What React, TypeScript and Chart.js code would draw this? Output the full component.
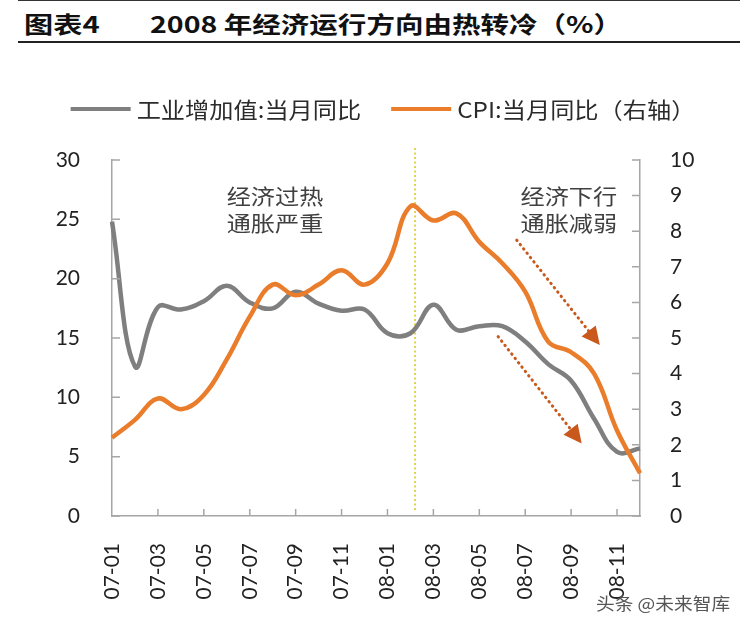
import React, { useEffect, useRef } from 'react';
import { Chart, registerables } from 'chart.js';

Chart.register(...registerables);

// ---------- data ----------
const months = [
  '07-01', '07-02', '07-03', '07-04', '07-05', '07-06', '07-07', '07-08', '07-09', '07-10', '07-11', '07-12',
  '08-01', '08-02', '08-03', '08-04', '08-05', '08-06', '08-07', '08-08', '08-09', '08-10', '08-11', '08-12',
];
const industrialValueAdded = [
  24.8, 12.6, 17.6, 17.4, 18.1, 19.4, 18.0, 17.5, 18.9, 17.9, 17.3, 17.4,
  15.4, 15.4, 17.8, 15.7, 16.0, 16.0, 14.7, 12.8, 11.4, 8.2, 5.4, 5.7,
];
const cpi = [
  2.2, 2.7, 3.3, 3.0, 3.4, 4.4, 5.6, 6.5, 6.2, 6.5, 6.9, 6.5,
  7.1, 8.7, 8.3, 8.5, 7.7, 7.1, 6.3, 4.9, 4.6, 4.0, 2.4, 1.2,
];
const leftTicks = [0, 5, 10, 15, 20, 25, 30];
const rightTicks = [0, 1, 2, 3, 4, 5, 6, 7, 8, 9, 10];
const seriesNames = ['工业增加值:当月同比', 'CPI:当月同比（右轴）'];
const titleLabel = '图表4';
const titleText = '2008 年经济运行方向由热转冷（%）';
const watermark = '头条 @未来智库';

// annotation positions in data space (x = month index, y = axis value)
const turningPoint = 13.2;
const notes = [
  { lines: ['经济过热', '通胀严重'], x: 7.1, y: 27.0, axis: 'yL' },
  { lines: ['经济下行', '通胀减弱'], x: 19.9, y: 27.0, axis: 'yL' },
];
const arrows = [
  { from: [17.63, 7.75], to: [21.25, 4.8], axis: 'yR' },
  { from: [16.82, 5.04], to: [20.46, 2.04], axis: 'yR' },
];

const GREY = '#7f7f7f';
const ORANGE = '#ea7d2c';
const AXIS = '#a6a6a6';
const CJK = "'Noto Sans CJK SC', sans-serif";
const NUM = "Lato, 'Noto Sans CJK SC', sans-serif";

function scaledText(ctx: CanvasRenderingContext2D, text: string, x: number, y: number, sx: number, align: 'left' | 'center') {
  const w = ctx.measureText(text).width * sx;
  const x0 = align === 'center' ? x - w / 2 : x;
  ctx.save();
  ctx.translate(x0, y);
  ctx.scale(sx, 1);
  ctx.textAlign = 'left';
  ctx.fillText(text, 0, 0);
  ctx.restore();
  return w;
}

const decorPlugin = {
  id: 'decor',
  beforeDatasetsDraw(chart: any) {
    const { ctx, chartArea, scales } = chart;
    const px = scales.x.getPixelForValue(turningPoint);
    ctx.save();
    ctx.strokeStyle = '#dcc828';
    ctx.lineWidth = 1.6;
    ctx.setLineDash([2, 2.5]);
    ctx.beginPath();
    ctx.moveTo(px, chartArea.top - 12);
    ctx.lineTo(px, chartArea.bottom - 4);
    ctx.stroke();
    ctx.restore();
  },
  afterDraw(chart: any) {
    const { ctx, chartArea, scales } = chart;
    const { x, yL, yR } = scales;
    ctx.save();
    // inner tick marks
    ctx.strokeStyle = AXIS;
    ctx.lineWidth = 1.5;
    ctx.beginPath();
    for (let i = 2; i < months.length; i += 2) {
      const p = x.getPixelForValue(i);
      ctx.moveTo(p, chartArea.bottom);
      ctx.lineTo(p, chartArea.bottom - 7);
    }
    leftTicks.forEach((v) => {
      const p = yL.getPixelForValue(v);
      ctx.moveTo(chartArea.left, p);
      ctx.lineTo(chartArea.left + 8, p);
    });
    rightTicks.forEach((v) => {
      const p = yR.getPixelForValue(v);
      ctx.moveTo(chartArea.right, p);
      ctx.lineTo(chartArea.right - 8, p);
    });
    ctx.stroke();

    // annotation texts
    ctx.fillStyle = '#404040';
    ctx.font = `21px ${CJK}`;
    ctx.textBaseline = 'middle';
    notes.forEach((n) => {
      const cx = x.getPixelForValue(n.x);
      const cy = scales[n.axis].getPixelForValue(n.y);
      n.lines.forEach((l, i) => scaledText(ctx, l, cx, cy + i * 27, 1.15, 'center'));
    });

    // dotted arrows
    arrows.forEach((a) => {
      const ys = scales[a.axis];
      const x1 = x.getPixelForValue(a.from[0]);
      const y1 = ys.getPixelForValue(a.from[1]);
      const x2 = x.getPixelForValue(a.to[0]);
      const y2 = ys.getPixelForValue(a.to[1]);
      const len = Math.hypot(x2 - x1, y2 - y1);
      const ux = (x2 - x1) / len;
      const uy = (y2 - y1) / len;
      const head = 18;
      const bx = x2 - ux * head;
      const by = y2 - uy * head;
      ctx.strokeStyle = '#c8581c';
      ctx.fillStyle = '#c8581c';
      ctx.lineWidth = 3;
      ctx.lineCap = 'round';
      ctx.setLineDash([0.5, 5]);
      ctx.beginPath();
      ctx.moveTo(x1, y1);
      ctx.lineTo(bx, by);
      ctx.stroke();
      ctx.setLineDash([]);
      ctx.beginPath();
      ctx.moveTo(x2, y2);
      ctx.lineTo(bx - uy * 9, by + ux * 9);
      ctx.lineTo(bx + uy * 9, by - ux * 9);
      ctx.closePath();
      ctx.fill();
    });

    // legend
    const ds = chart.data.datasets;
    ctx.font = `22px ${CJK}`;
    const sx = 1.1;
    const lineLen = 60;
    const gap = 6;
    const itemGap = 30;
    const widths = ds.map((d: any) => ctx.measureText(d.label).width * sx);
    const total = widths.reduce((s: number, w: number) => s + lineLen + gap + w, 0) + itemGap * (ds.length - 1);
    let lx = chart.width / 2 + 8 - total / 2;
    const ly = 109;
    ds.forEach((d: any, i: number) => {
      ctx.strokeStyle = d.borderColor;
      ctx.lineWidth = 4;
      ctx.lineCap = 'butt';
      ctx.beginPath();
      ctx.moveTo(lx, ly);
      ctx.lineTo(lx + lineLen, ly);
      ctx.stroke();
      lx += lineLen + gap;
      ctx.fillStyle = '#2b2b2b';
      ctx.textBaseline = 'middle';
      scaledText(ctx, d.label, lx, ly + 1, sx, 'left');
      lx += widths[i] + itemGap;
    });
    ctx.restore();
  },
};

export default function App() {
  const ref = useRef<HTMLCanvasElement | null>(null);

  useEffect(() => {
    if (!ref.current) return;
    const chart = new Chart(ref.current, {
      type: 'line',
      data: {
        labels: months,
        datasets: [
          {
            label: seriesNames[0],
            data: industrialValueAdded,
            borderColor: GREY,
            backgroundColor: GREY,
            borderWidth: 4.5,
            pointRadius: 0,
            tension: 0.4,
            yAxisID: 'yL',
            order: 2,
          },
          {
            label: seriesNames[1],
            data: cpi,
            borderColor: ORANGE,
            backgroundColor: ORANGE,
            borderWidth: 4.5,
            pointRadius: 0,
            tension: 0.4,
            yAxisID: 'yR',
            order: 1,
          },
        ],
      },
      options: {
        animation: false,
        responsive: true,
        maintainAspectRatio: false,
        layout: { padding: { top: 160, left: 0, right: 0, bottom: 0 } },
        plugins: { legend: { display: false }, tooltip: { enabled: false }, title: { display: false } },
        scales: {
          x: {
            offset: false,
            grid: { display: false },
            border: { display: true, color: AXIS, width: 1.5 },
            ticks: {
              autoSkip: false,
              minRotation: 90,
              maxRotation: 90,
              padding: 19,
              color: '#222',
              font: { family: NUM, size: 21 },
              callback: (_v: any, i: number) => (i % 2 === 0 ? months[i] : ''),
            },
            afterFit: (s: any) => { s.height = 114; },
          },
          yL: {
            position: 'left',
            min: 0,
            max: 30,
            grid: { display: false },
            border: { display: true, color: AXIS, width: 1.5 },
            ticks: { stepSize: 5, padding: 24, color: '#222', font: { family: NUM, size: 21 } },
            afterFit: (s: any) => { s.width = 112; },
          },
          yR: {
            position: 'right',
            min: 0,
            max: 10,
            grid: { display: false },
            border: { display: true, color: AXIS, width: 1.5 },
            ticks: { stepSize: 1, padding: 22, color: '#222', font: { family: NUM, size: 21 } },
            afterFit: (s: any) => { s.width = 110; },
          },
        },
      },
      plugins: [decorPlugin],
    });
    return () => chart.destroy();
  }, []);

  return (
    <div style={{ position: 'absolute', left: 0, top: 0, width: 750, height: 630, background: '#fff', overflow: 'hidden' }}>
      <div style={{ position: 'absolute', left: 18, right: 10, top: 0, height: 1, background: '#333' }} />
      <div style={{ position: 'absolute', left: 18, right: 10, top: 41, height: 2, background: '#222' }} />
      <div
        style={{
          position: 'absolute', left: 24, top: 6, fontFamily: CJK, fontWeight: 700, fontSize: 23,
          color: '#111', transform: 'scaleX(1.27)', transformOrigin: 'left top', whiteSpace: 'nowrap',
        }}
      >
        {titleLabel}
      </div>
      <div
        style={{
          position: 'absolute', left: 150, top: 6, fontFamily: CJK, fontWeight: 700, fontSize: 23,
          color: '#111', transform: 'scaleX(1.24)', transformOrigin: 'left top', whiteSpace: 'nowrap',
        }}
      >
        {titleText}
      </div>
      <canvas ref={ref} style={{ position: 'absolute', left: 0, top: 0, width: 750, height: 630 }} />
      <div
        style={{
          position: 'absolute', left: 596, top: 590, fontFamily: CJK, fontSize: 17, color: '#555',
          transform: 'scaleX(1.1)', transformOrigin: 'left top', whiteSpace: 'nowrap',
        }}
      >
        {watermark}
      </div>
    </div>
  );
}
